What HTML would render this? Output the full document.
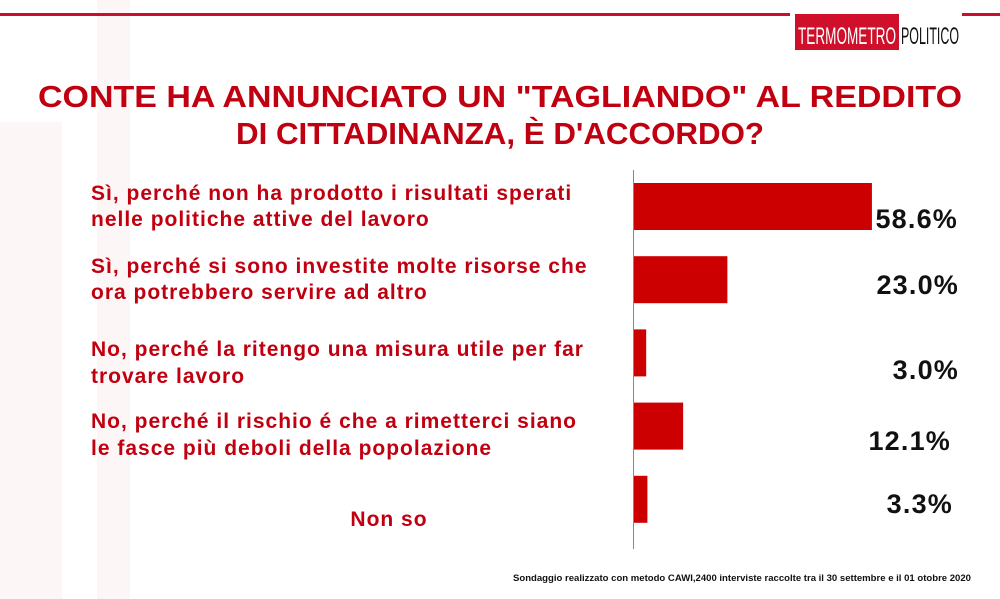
<!DOCTYPE html>
<html><head><meta charset="utf-8"><style>
html,body{margin:0;padding:0;background:#fff;}
svg{display:block;font-family:"Liberation Sans",sans-serif;}
</style></head><body>
<svg id="chart" width="1000" height="599" viewBox="0 0 1000 599" xmlns="http://www.w3.org/2000/svg">
<rect x="0" y="122" width="62" height="477" fill="#fdf6f6"/>
<rect x="97" y="0" width="33" height="599" fill="#fdf6f6"/>
<rect x="0" y="13" width="790" height="3" fill="#c8102e"/>
<rect x="962" y="13" width="38" height="3" fill="#c8102e"/>
<g>
<rect x="795" y="14" width="104" height="36" fill="#d0102a"/>
<text x="847" y="44" text-anchor="middle" fill="#fff" font-size="24" textLength="98" lengthAdjust="spacingAndGlyphs">TERMOMETRO</text>
<text x="930" y="44" text-anchor="middle" fill="#111" font-size="24" textLength="58" lengthAdjust="spacingAndGlyphs">POLITICO</text>
</g>
<g fill="#c00010" font-weight="bold" font-size="31" text-anchor="middle">
<text x="500" y="107" textLength="924" lengthAdjust="spacingAndGlyphs">CONTE HA ANNUNCIATO UN "TAGLIANDO" AL REDDITO</text>
<text x="500" y="144" textLength="528" lengthAdjust="spacingAndGlyphs">DI CITTADINANZA, È D'ACCORDO?</text>
</g>
<line x1="633.5" y1="170" x2="633.5" y2="549" stroke="#888" stroke-width="1"/>
<g id="bars"></g>
<text x="971" y="581" text-anchor="end" font-size="9.5" font-weight="bold" fill="#111" textLength="458" lengthAdjust="spacingAndGlyphs">Sondaggio realizzato con metodo CAWI,2400 interviste raccolte tra il 30 settembre  e il 01  otobre  2020</text>
</svg>
<script>
const categories = [
  ["Sì, perché non ha prodotto i risultati sperati","nelle politiche attive del lavoro"],
  ["Sì, perché si sono investite molte risorse che","ora potrebbero servire ad altro"],
  ["No, perché la ritengo una misura utile per far","trovare lavoro"],
  ["No, perché il rischio é che a rimetterci siano","le fasce più deboli della popolazione"],
  ["Non so"]
];
const values = [58.6, 23.0, 3.0, 12.1, 3.3];
const valueLabels = ["58.6%","23.0%","3.0%","12.1%","3.3%"];
const labelRight = [958, 959, 959, 951, 953];
const labelMid = [218, 284, 369, 440, 503];
const catY = [[200, 226],[273, 299],[356, 383],[428, 455],[526]];
const ns = "http://www.w3.org/2000/svg";
const g = document.getElementById('bars');
const x0 = 634, scale = 4.06;
const x = v => x0 + v * scale;
const y = i => 183 + i * 73.2;
values.forEach((v, i) => {
  const r = document.createElementNS(ns, 'rect');
  r.setAttribute('x', x0);
  r.setAttribute('y', y(i));
  r.setAttribute('width', x(v) - x0);
  r.setAttribute('height', 47);
  r.setAttribute('fill', '#cc0000');
  
  
  g.appendChild(r);
  const t = document.createElementNS(ns, 'text');
  t.setAttribute('x', labelRight[i]);
  t.setAttribute('y', labelMid[i] + 10);
  t.setAttribute('text-anchor', 'end');
  t.setAttribute('font-size', '27');
  t.setAttribute('font-weight', 'bold');
  t.setAttribute('letter-spacing', '1.2');
  t.setAttribute('fill', '#111');
  t.textContent = valueLabels[i];
  
  
  g.appendChild(t);
  categories[i].forEach((line, j) => {
    const c = document.createElementNS(ns, 'text');
    if (categories[i].length === 1) { c.setAttribute('x', 389); c.setAttribute('text-anchor', 'middle'); }
    else c.setAttribute('x', 91);
    c.setAttribute('y', catY[i][j]);
    c.setAttribute('font-size', '21');
    c.setAttribute('letter-spacing', '1');
    c.setAttribute('font-weight', 'bold');
    c.setAttribute('fill', '#c00010');
    c.textContent = line;
    
    
    g.appendChild(c);
  });
});
</script>
</body></html>
